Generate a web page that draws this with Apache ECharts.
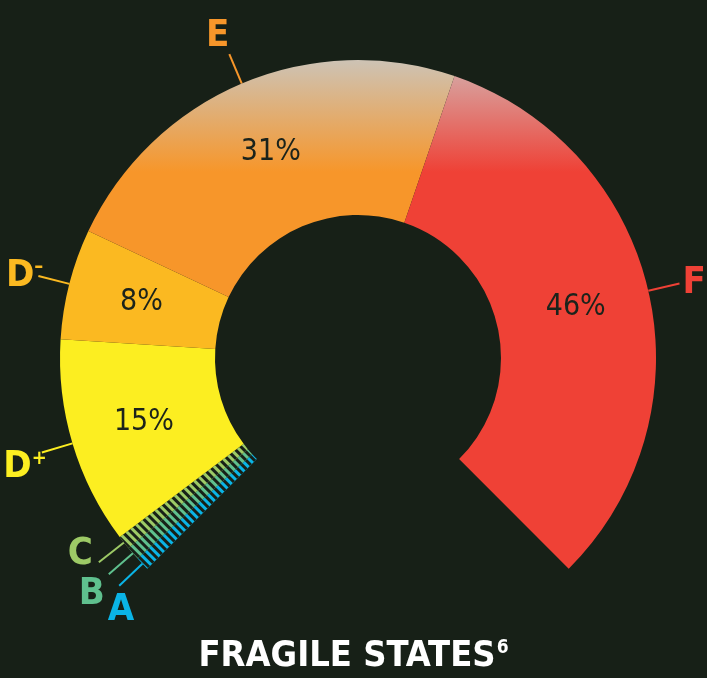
<!DOCTYPE html>
<html>
<head>
<meta charset="utf-8">
<script src="https://cdn.jsdelivr.net/npm/echarts@6/dist/echarts.min.js"></script>
<style>
  html, body { margin: 0; padding: 0; background: #172017; }
  #chart { width: 707px; height: 678px; }
</style>
</head>
<body>
<div id="chart"></div>
<script>
// grades, clockwise from the bottom-left end of the ring
const grades = ['A', 'B', 'C', 'D+', 'D-', 'E', 'F'];
// share of the ring
const shares = [1, 1, 1, 15, 8, 31, 43];
// printed percentages
const shareLabels = ['', '', '', '15%', '8%', '31%', '46%'];
const gradeColors = ['#0ab4e6', '#5fc08e', '#9dca66', '#fcee21', '#fbb921', '#f7962a', '#ef4136'];
const hatched = ['A', 'B', 'C'];

const bg = '#172017';
const narrow = "'Liberation Sans Narrow', 'DejaVu Sans Condensed', sans-serif";

// light top wash on E and F
function washed(color, top) {
  return {
    type: 'linear', x: 0, y: 60, x2: 0, y2: 172, global: true,
    colorStops: [{ offset: 0, color: top }, { offset: 1, color: color }]
  };
}

const sliceData = grades.map((g, i) => {
  let color = gradeColors[i];
  if (g === 'E') color = washed(color, '#cdc3b5');
  if (g === 'F') color = washed(color, '#d4b0ae');
  const item = { name: g, value: shares[i], itemStyle: { color: color } };
  if (hatched.indexOf(g) >= 0) {
    item.itemStyle.decal = {
      symbol: 'rect',
      symbolSize: 1,
      color: bg,
      dashArrayX: [1, 0],
      dashArrayY: [3, 3],
      rotation: Math.PI / 4
    };
  }
  return item;
});

const nudge = { 'E': [3, -18], 'C': [-3, -8], 'B': [-1, 20], 'A': [18, 24], 'D-': [8, 0], 'D+': [8, 15], 'F': [0, 0] };

const chart = echarts.init(document.getElementById('chart'));
chart.setOption({
  backgroundColor: bg,
  animation: false,
  title: {
    text: '{t|FRAGILE STATES}{s|6}',
    left: 'center',
    top: 634,
    textStyle: {
      rich: {
        t: { fontFamily: narrow, fontWeight: 'bold', fontSize: 36, color: '#ffffff' },
        s: { fontFamily: narrow, fontWeight: 'bold', fontSize: 19, color: '#ffffff', verticalAlign: 'top', padding: [0, 0, 12, 1] }
      }
    }
  },
  series: [
    {
      type: 'pie',
      center: [358, 358],
      radius: [143, 298],
      startAngle: 225,
      endAngle: -45,
      clockwise: true,
      silent: true,
      data: sliceData,
      label: {
        position: 'inside',
        formatter: p => shareLabels[p.dataIndex],
        color: '#1b231b',
        fontFamily: narrow,
        fontSize: 30
      },
      labelLine: { show: false }
    },
    {
      type: 'pie',
      center: [358, 358],
      radius: [143, 298],
      startAngle: 225,
      endAngle: -45,
      clockwise: true,
      silent: true,
      avoidLabelOverlap: false,
      data: grades.map((g, i) => ({
        name: g,
        value: shares[i],
        itemStyle: { color: 'rgba(0,0,0,0)' },
        label: { color: gradeColors[i] },
        labelLine: { lineStyle: { color: gradeColors[i] } }
      })),
      label: {
        position: 'outside',
        distanceToLabelLine: 3,
        fontFamily: narrow,
        fontWeight: 'bold',
        fontSize: 38,
        formatter: p => {
          const sign = p.name.charAt(1);
          return sign ? 'D{sup|' + (sign === '-' ? '–' : '+') + '}' : p.name;
        },
        rich: {
          sup: { fontFamily: narrow, fontWeight: 'bold', fontSize: 20, verticalAlign: 'top', padding: [0, 0, 14, 0] }
        }
      },
      labelLine: { show: true, length: 32, length2: 0, lineStyle: { width: 2 } },
      labelLayout: params => {
        const off = nudge[grades[params.dataIndex]] || [0, 0];
        return { dx: off[0], dy: off[1], labelLinePoints: params.labelLinePoints };
      }
    }
  ]
});
</script>
</body>
</html>
